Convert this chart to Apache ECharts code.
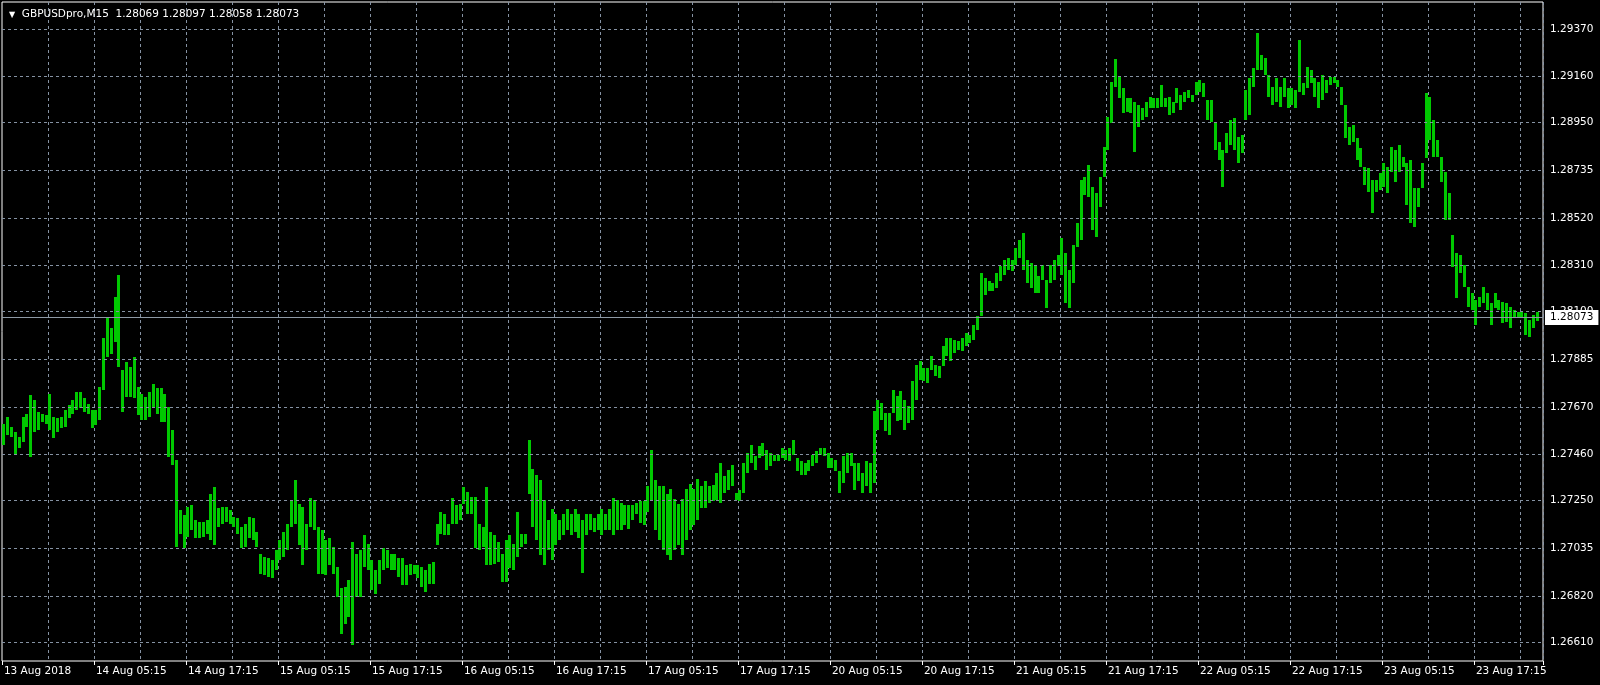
<!DOCTYPE html>
<html>
<head>
<meta charset="utf-8">
<script src="https://cdn.jsdelivr.net/npm/echarts/dist/echarts.min.js"></script>
<style>
html,body{margin:0;padding:0;background:#000;}
#chart{width:1600px;height:685px;}
</style>
</head>
<body>
<div id="chart"></div>
<script>
// ---- data (30-minute ranges) ----
const symbolName = 'GBPUSDpro,M15';
const lastBar = [1.28069, 1.28097, 1.28058, 1.28073]; // open, high, low, close

const yTickLabels = ['1.29370','1.29160','1.28950','1.28735','1.28520','1.28310','1.28100',
  '1.27885','1.27670','1.27460','1.27250','1.27035','1.26820','1.26610'];

const xTickLabels = ['13 Aug 2018','14 Aug 05:15','14 Aug 17:15','15 Aug 05:15','15 Aug 17:15',
  '16 Aug 05:15','16 Aug 17:15','17 Aug 05:15','17 Aug 17:15','20 Aug 05:15','20 Aug 17:15',
  '21 Aug 05:15','21 Aug 17:15','22 Aug 05:15','22 Aug 17:15','23 Aug 05:15','23 Aug 17:15'];

const highs = [
1.27596,1.27626,1.27581,1.27559,1.27536,1.27626,1.27641,1.27724,1.27701,1.27649,
1.27641,1.27634,1.27731,1.27626,1.27619,1.27626,1.27656,1.27679,1.27701,1.27739,
1.27739,1.27709,1.27686,1.27656,1.27656,1.27761,1.27979,1.28076,1.28024,1.28166,
1.28264,1.27836,1.27874,1.27851,1.27896,1.27761,1.27731,1.27716,1.27739,1.27776,
1.27754,1.27754,1.27731,1.27671,1.27566,1.27431,1.27206,1.27184,1.27221,1.27229,
1.27161,1.27154,1.27154,1.27161,1.27281,1.27311,1.27214,1.27221,1.27221,1.27206,
1.27176,1.27169,1.27131,1.27146,1.27176,1.27169,1.27109,1.27011,1.26996,1.26989,
1.26981,1.27026,1.27071,1.27109,1.27146,1.27251,1.27341,1.27236,1.27221,1.27146,
1.27259,1.27251,1.27131,1.27116,1.27071,1.27079,1.27041,1.26951,1.26854,1.26861,
1.26891,1.27064,1.27011,1.27026,1.27094,1.27056,1.26981,1.26936,1.26981,1.27034,
1.27026,1.27011,1.27011,1.26989,1.26989,1.26959,1.26966,1.26959,1.26959,1.26951,
1.26936,1.26966,1.26974,1.27146,1.27199,1.27191,1.27146,1.27259,1.27229,1.27236,
1.27311,1.27289,1.27266,1.27266,1.27146,1.27131,1.27311,1.27109,1.27094,1.27064,
1.27011,1.27071,1.27094,1.27056,1.27199,1.27101,1.27101,1.27521,1.27390,1.27366,
1.27344,1.27254,1.27164,1.27210,1.27187,1.27164,1.27187,1.27210,1.27187,1.27210,
1.27187,1.27164,1.27187,1.27187,1.27173,1.27187,1.27210,1.27187,1.27210,1.27261,
1.27254,1.27239,1.27231,1.27230,1.27231,1.27239,1.27246,1.27246,1.27314,1.27479,
1.27344,1.27314,1.27314,1.27279,1.27302,1.27256,1.27233,1.27256,1.27302,1.27324,
1.27302,1.27347,1.27314,1.27336,1.27314,1.27321,1.27374,1.27419,1.27359,1.27389,
1.27411,1.27284,1.27299,1.27419,1.27464,1.27501,1.27449,1.27494,1.27509,1.27479,
1.27464,1.27456,1.27456,1.27486,1.27479,1.27486,1.27521,1.27441,1.27426,1.27419,
1.27434,1.27456,1.27471,1.27486,1.27486,1.27464,1.27441,1.27434,1.27381,1.27449,
1.27464,1.27464,1.27419,1.27419,1.27374,1.27426,1.27419,1.27651,1.27704,1.27689,
1.27644,1.27644,1.27749,1.27719,1.27741,1.27704,1.27674,1.27786,1.27861,1.27876,
1.27846,1.27846,1.27899,1.27861,1.27854,1.27944,1.27981,1.27981,1.27974,1.27966,
1.27981,1.28004,1.27996,1.28041,1.28079,1.28274,1.28251,1.28236,1.28229,1.28274,
1.28304,1.28334,1.28341,1.28334,1.28386,1.28424,1.28454,1.28334,1.28319,1.28311,
1.28259,1.28311,1.28244,1.28311,1.28334,1.28356,1.28430,1.28362,1.28287,1.28400,
1.28497,1.28692,1.28707,1.28759,1.28662,1.28632,1.28707,1.28842,1.28977,1.29134,
1.29235,1.29157,1.29104,1.29059,1.29059,1.29044,1.29029,1.29014,1.29044,1.29067,
1.29059,1.29059,1.29119,1.29059,1.29067,1.29044,1.29104,1.29074,1.29089,1.29097,
1.29074,1.29134,1.29142,1.29127,1.29052,1.29052,1.28947,1.28864,1.28827,1.28902,
1.28962,1.28969,1.28887,1.28894,1.29097,1.29149,1.29194,1.29352,1.29254,1.29239,
1.29164,1.29112,1.29149,1.29112,1.29149,1.29104,1.29104,1.29097,1.29322,1.29127,
1.29202,1.29187,1.29149,1.29134,1.29164,1.29142,1.29157,1.29157,1.29142,1.29112,
1.29029,1.28932,1.28939,1.28879,1.28834,1.28752,1.28744,1.28692,1.28692,1.28722,
1.28767,1.28752,1.28842,1.28827,1.28849,1.28797,1.28767,1.28782,1.28654,1.28654,
1.28767,1.29082,1.29067,1.28962,1.28872,1.28797,1.28729,1.28632,1.28444,1.28362,
1.28354,1.28309,1.28212,1.28182,1.28152,1.28167,1.28212,1.28182,1.28137,1.28182,
1.28152,1.28144,1.28137,1.28122,1.28107,1.28099,1.28099,1.28092,1.28062,1.28084,
1.28097
];

const lows = [
1.27499,1.27544,1.27536,1.27461,1.27484,1.27514,1.27581,1.27446,1.27559,1.27566,
1.27604,1.27596,1.27566,1.27529,1.27559,1.27574,1.27581,1.27619,1.27641,1.27656,
1.27664,1.27649,1.27641,1.27574,1.27589,1.27611,1.27746,1.27896,1.27911,1.27964,
1.27851,1.27649,1.27716,1.27716,1.27709,1.27634,1.27611,1.27611,1.27626,1.27671,
1.27641,1.27604,1.27604,1.27446,1.27409,1.27041,1.27101,1.27034,1.27086,1.27116,
1.27079,1.27079,1.27086,1.27101,1.27071,1.27049,1.27131,1.27146,1.27154,1.27146,
1.27131,1.27101,1.27034,1.27041,1.27079,1.27071,1.27041,1.26921,1.26914,1.26906,
1.26899,1.26936,1.26981,1.26996,1.27026,1.27131,1.27146,1.27049,1.26959,1.27026,
1.27131,1.27116,1.26921,1.26921,1.26914,1.26959,1.26921,1.26816,1.26651,1.26696,
1.26726,1.26599,1.26816,1.26816,1.26951,1.26936,1.26846,1.26831,1.26876,1.26936,
1.26944,1.26936,1.26936,1.26906,1.26869,1.26869,1.26914,1.26921,1.26899,1.26861,
1.26839,1.26876,1.26876,1.27049,1.27101,1.27094,1.27094,1.27146,1.27146,1.27161,
1.27236,1.27191,1.27191,1.27034,1.27026,1.27041,1.26959,1.26959,1.26966,1.26974,
1.26884,1.26884,1.26944,1.26936,1.26996,1.27041,1.27056,1.27281,1.27130,1.27073,
1.27004,1.26958,1.27027,1.26981,1.27050,1.27073,1.27096,1.27119,1.27096,1.27110,
1.27082,1.26925,1.27096,1.27119,1.27110,1.27119,1.27096,1.27119,1.27119,1.27096,
1.27119,1.27119,1.27141,1.27120,1.27164,1.27187,1.27150,1.27140,1.27200,1.27250,
1.27119,1.27073,1.27027,1.27004,1.26981,1.27027,1.27050,1.27004,1.27073,1.27119,
1.27141,1.27164,1.27216,1.27216,1.27239,1.27246,1.27254,1.27239,1.27284,1.27299,
1.27314,1.27254,1.27246,1.27284,1.27374,1.27419,1.27389,1.27441,1.27449,1.27389,
1.27404,1.27426,1.27426,1.27441,1.27434,1.27426,1.27456,1.27381,1.27366,1.27366,
1.27381,1.27404,1.27419,1.27456,1.27449,1.27396,1.27396,1.27381,1.27284,1.27329,
1.27374,1.27404,1.27299,1.27336,1.27284,1.27314,1.27284,1.27329,1.27569,1.27614,
1.27561,1.27546,1.27644,1.27606,1.27614,1.27569,1.27599,1.27614,1.27704,1.27794,
1.27786,1.27779,1.27839,1.27809,1.27801,1.27854,1.27899,1.27876,1.27914,1.27929,
1.27921,1.27944,1.27959,1.27974,1.28019,1.28079,1.28176,1.28191,1.28191,1.28206,
1.28236,1.28266,1.28289,1.28281,1.28311,1.28341,1.28289,1.28229,1.28206,1.28184,
1.28184,1.28244,1.28116,1.28229,1.28244,1.28304,1.28265,1.28137,1.28114,1.28227,
1.28392,1.28422,1.28624,1.28617,1.28467,1.28437,1.28572,1.28707,1.28827,1.28947,
1.29112,1.29059,1.28992,1.28999,1.28992,1.28819,1.28932,1.28962,1.28977,1.29014,
1.29014,1.29014,1.29022,1.29022,1.28984,1.28992,1.29037,1.29007,1.29044,1.29059,
1.29044,1.29074,1.29089,1.29067,1.28962,1.28954,1.28827,1.28782,1.28662,1.28812,
1.28849,1.28827,1.28767,1.28812,1.28962,1.28984,1.29112,1.29187,1.29187,1.29164,
1.29067,1.29029,1.29044,1.29022,1.29067,1.29014,1.29029,1.29014,1.29089,1.29074,
1.29104,1.29127,1.29067,1.29014,1.29052,1.29082,1.29119,1.29127,1.29112,1.29029,
1.28879,1.28849,1.28864,1.28782,1.28752,1.28669,1.28639,1.28542,1.28639,1.28647,
1.28662,1.28632,1.28729,1.28684,1.28729,1.28752,1.28579,1.28497,1.28482,1.28572,
1.28654,1.28789,1.28872,1.28797,1.28797,1.28684,1.28512,1.28512,1.28302,1.28159,
1.28272,1.28212,1.28122,1.28107,1.28039,1.28122,1.28137,1.28107,1.28039,1.28114,
1.28107,1.28047,1.28054,1.28024,1.28069,1.28069,1.28069,1.27994,1.27987,1.28024,
1.28058
];

// ---- layout / style ----
const FONT = 'DejaVu Sans';
const BAR_COLOR = '#00c800';
const GRID_COLOR = '#8592a3';
const SLOT_COUNT = 402;          // 30-minute slots across the visible window
const LABEL_EVERY = 24;          // 12 hours
const GRIDLINE_EVERY = 12;       // 6 hours
const Y_MIN = 1.265277, Y_MAX = 1.294928;

const slots = [];
for (let i = 0; i < SLOT_COUNT; i++) slots.push(String(i));
const barData = highs.map((h, i) => [i, lows[i], h]);
const yTickValues = yTickLabels.map(Number);
const lastClose = lastBar[3];

const chart = echarts.init(document.getElementById('chart'), null, {renderer: 'canvas'});
chart.setOption({
  animation: false,
  backgroundColor: '#000',
  title: {
    left: 4, top: 4,
    text: '{a|▼}  ' + symbolName + '  ' + lastBar.map(v => v.toFixed(5)).join(' '),
    textStyle: {
      color: '#ffffff', fontSize: 10.5, fontWeight: 'normal', fontFamily: FONT,
      rich: {a: {fontSize: 8, color: '#ffffff', fontFamily: FONT}}
    }
  },
  grid: {
    left: 2, right: 57, top: 2, bottom: 24,
    show: true, borderColor: '#ffffff', borderWidth: 1, backgroundColor: '#000'
  },
  xAxis: {
    type: 'category', data: slots, boundaryGap: true,
    axisLine: {show: false},
    axisTick: {show: true, length: 4, interval: (i) => i % LABEL_EVERY === 0,
      lineStyle: {color: '#ffffff', width: 1}},
    axisLabel: {
      interval: (i) => i % LABEL_EVERY === 0,
      formatter: (v, i) => xTickLabels[Math.round(Number(v) / LABEL_EVERY)] || '',
      align: 'left', color: '#ffffff', fontSize: 10.5, fontFamily: FONT, margin: 5
    },
    splitLine: {show: true, interval: (i) => i > 0 && i % GRIDLINE_EVERY === 0,
      lineStyle: {color: GRID_COLOR, width: 1, type: [3, 3]}}
  },
  yAxis: {
    type: 'value', min: Y_MIN, max: Y_MAX, show: false, splitLine: {show: false}
  },
  series: [
    {
      type: 'custom',
      clip: true,
      data: barData,
      encode: {x: 0, y: [1, 2]},
      renderItem: function (params, api) {
        const idx = api.value(0);
        const top = api.coord([idx, api.value(2)]);
        const bot = api.coord([idx, api.value(1)]);
        const y0 = Math.round(top[1]);
        const y1 = Math.round(bot[1]);
        return {
          type: 'rect',
          shape: {x: Math.round(top[0] - 1.5), y: y0, width: 3, height: Math.max(1, y1 - y0)},
          style: {fill: BAR_COLOR}
        };
      },
      markLine: {
        silent: true, symbol: ['none', 'none'], animation: false, precision: 5,
        lineStyle: {color: GRID_COLOR, width: 1, type: [3, 3]},
        label: {show: true, position: 'end', distance: 7, color: '#ffffff',
          fontSize: 10.5, fontFamily: FONT},
        data: yTickValues.map((v, k) => ({yAxis: v, label: {formatter: yTickLabels[k]}}))
      },
      z: 2
    },
    {
      type: 'custom',
      data: [],
      renderItem: () => null,
      z: 5,
      markLine: {
        silent: true, symbol: ['none', 'none'], animation: false, precision: 5,
        lineStyle: {color: '#8d99a6', width: 1, type: 'solid'},
        label: {show: true, position: 'end', distance: 2, color: '#000000',
          backgroundColor: '#ffffff', padding: [2, 5, 2, 5],
          fontSize: 10.5, fontFamily: FONT, formatter: lastClose.toFixed(5)},
        data: [{yAxis: lastClose}]
      }
    }
  ]
});
</script>
</body>
</html>
